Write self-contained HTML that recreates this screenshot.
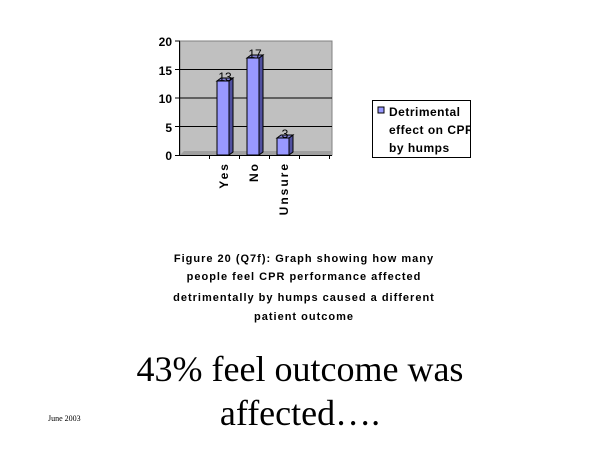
<!DOCTYPE html>
<html><head><style>
body{margin:0;background:#fff;width:600px;height:450px;overflow:hidden;position:relative;font-family:"Liberation Sans",Arial,sans-serif}
</style></head><body>
<svg width="600" height="450" style="position:absolute;left:0;top:0" font-family="Liberation Sans, Arial, sans-serif">
<defs><clipPath id="lc"><rect x="373" y="101" width="97" height="56"/></clipPath></defs>
<rect x="180" y="41" width="152" height="114" fill="#c0c0c0" stroke="#808080" stroke-width="1"/>
<g stroke="#000" stroke-width="1">
<line x1="180" y1="69.5" x2="332" y2="69.5"/>
<line x1="180" y1="98" x2="332" y2="98"/>
<line x1="180" y1="126.5" x2="332" y2="126.5"/>
</g>
<path d="M180 155 L184 151 L332 151 L332 155Z" fill="#a0a0a0"/>
<g stroke="#000" stroke-width="1">
<line x1="179.5" y1="41" x2="179.5" y2="156"/>
<line x1="175" y1="41" x2="180" y2="41"/>
<line x1="175" y1="69.5" x2="180" y2="69.5"/>
<line x1="175" y1="98" x2="180" y2="98"/>
<line x1="175" y1="126.5" x2="180" y2="126.5"/>
<line x1="175" y1="155.5" x2="332" y2="155.5"/>
<line x1="209.5" y1="155" x2="209.5" y2="159"/>
<line x1="239.5" y1="155" x2="239.5" y2="159"/>
<line x1="269.5" y1="155" x2="269.5" y2="159"/>
<line x1="299.5" y1="155" x2="299.5" y2="159"/>
<line x1="329.5" y1="155" x2="329.5" y2="159"/>
</g>
<g stroke="#000" stroke-width="1">
<path d="M229 81 L233 78 L233 152 L229 155Z" fill="#5050a0"/>
<path d="M217 81 L221 78 L233 78 L229 81Z" fill="#8080d0"/>
<rect x="217" y="81" width="12" height="74" fill="#9999ff"/>
<path d="M259 58 L263 55 L263 152 L259 155Z" fill="#5050a0"/>
<path d="M247 58 L251 55 L263 55 L259 58Z" fill="#8080d0"/>
<rect x="247" y="58" width="12" height="97" fill="#9999ff"/>
<path d="M289 138 L293 135 L293 152 L289 155Z" fill="#5050a0"/>
<path d="M277 138 L281 135 L293 135 L289 138Z" fill="#8080d0"/>
<rect x="277" y="138" width="12" height="17" fill="#9999ff"/>
</g>
<g font-size="12" font-weight="bold" text-anchor="end">
<text x="172" y="46">20</text><text x="172" y="75">15</text><text x="172" y="103">10</text><text x="172" y="132">5</text><text x="172" y="160">0</text>
</g>
<g font-size="12" text-anchor="middle">
<text x="225" y="81">13</text><text x="255" y="58">17</text><text x="285" y="138">3</text>
</g>
<g font-size="12" font-weight="bold" letter-spacing="2" text-anchor="end">
<text transform="translate(228,162) rotate(-90)">Yes</text>
<text transform="translate(258,162) rotate(-90)">No</text>
<text transform="translate(288,162) rotate(-90)">Unsure</text>
</g>
<rect x="372.5" y="100.5" width="98" height="57" fill="#fff" stroke="#000"/>
<rect x="378" y="107" width="6" height="6" fill="#9999ff" stroke="#000"/>
<g font-size="12" font-weight="bold" letter-spacing="0.5" clip-path="url(#lc)">
<text x="389" y="116">Detrimental</text>
<text x="389" y="134">effect on CPR</text>
<text x="389" y="152">by humps</text>
</g>
<g font-size="11" font-weight="bold" letter-spacing="1" text-anchor="middle">
<text x="304" y="262">Figure 20 (Q7f):  Graph showing how many</text>
<text x="304" y="280">people feel CPR performance affected</text>
<text x="304" y="301">detrimentally by humps caused a different</text>
<text x="304" y="320">patient outcome</text>
</g>
<g font-family="Liberation Serif, serif" font-size="36" text-anchor="middle">
<text x="300" y="381">43% feel outcome was</text>
<text x="300" y="425">affected….</text>
</g>
<text x="48" y="421" font-family="Liberation Serif, serif" font-size="8">June 2003</text>
</svg>
</body></html>
